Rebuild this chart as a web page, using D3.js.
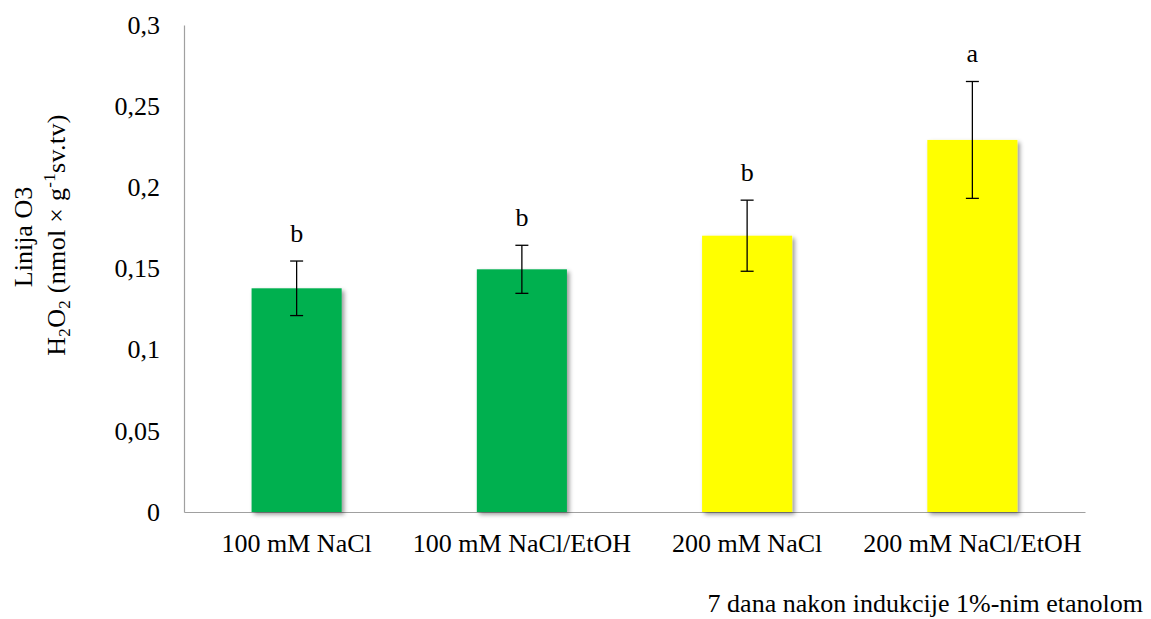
<!DOCTYPE html>
<html>
<head>
<meta charset="utf-8">
<script src="https://cdn.jsdelivr.net/npm/d3@7"></script>
<style>
  html, body { margin: 0; padding: 0; background: #fff; }
  svg text { font-family: "Liberation Serif", "Times New Roman", "DejaVu Serif", serif !important; }
</style>
</head>
<body>
<svg id="chart" width="1151" height="619"></svg>
<script>
const categories = ["100 mM NaCl", "100 mM NaCl/EtOH", "200 mM NaCl", "200 mM NaCl/EtOH"];
const values = [0.1378, 0.1495, 0.1702, 0.2292];
const errors = [0.0168, 0.0148, 0.0219, 0.0360];
const letters = ["b", "b", "b", "a"];
const barColors = ["#00B050", "#00B050", "#FFFF00", "#FFFF00"];
const yTicks = [0, 0.05, 0.1, 0.15, 0.2, 0.25, 0.3];
const yTickLabels = ["0", "0,05", "0,1", "0,15", "0,2", "0,25", "0,3"];
const xTitle = "7 dana nakon indukcije 1%-nim etanolom";

const svg = d3.select("#chart");
const m = { left: 184, right: 1085, top: 25, bottom: 512 };
const FS = 26;

const x = d3.scaleBand().domain(categories).range([m.left, m.right])
  .paddingInner(0.6).paddingOuter(0.3);
const y = d3.scaleLinear().domain([0, 0.3]).range([m.bottom, m.top]);

const defs = svg.append("defs");
const f = defs.append("filter").attr("id", "shadow")
  .attr("x", "-20%").attr("y", "-20%").attr("width", "150%").attr("height", "150%");
f.append("feDropShadow").attr("dx", 2.5).attr("dy", 2.5).attr("stdDeviation", 2)
  .attr("flood-color", "#000").attr("flood-opacity", 0.4);

// axes
const yAxis = svg.append("g").attr("transform", `translate(${m.left},0)`)
  .call(d3.axisLeft(y).tickValues(yTicks).tickSize(0).tickPadding(24)
    .tickFormat((d, i) => yTickLabels[i]));
yAxis.select(".domain").attr("stroke", "#a0a0a0").attr("stroke-width", 1.2);
yAxis.selectAll("text").attr("font-size", FS).attr("fill", "#000");

const xAxis = svg.append("g").attr("transform", `translate(0,${m.bottom})`)
  .call(d3.axisBottom(x).tickSize(0).tickPadding(21.5));
xAxis.select(".domain").attr("stroke", "#a0a0a0").attr("stroke-width", 1.2);
xAxis.selectAll("text").attr("font-size", FS).attr("fill", "#000");

// bars
svg.append("g").selectAll("rect").data(categories).join("rect")
  .attr("x", d => x(d))
  .attr("y", (d, i) => y(values[i]))
  .attr("width", x.bandwidth())
  .attr("height", (d, i) => y(0) - y(values[i]))
  .attr("fill", (d, i) => barColors[i])
  .attr("filter", "url(#shadow)");

// error bars
const eg = svg.append("g").attr("stroke", "#000").attr("stroke-width", 1.3);
categories.forEach((c, i) => {
  const cx = x(c) + x.bandwidth() / 2;
  const hi = y(values[i] + errors[i]), lo = y(values[i] - errors[i]);
  eg.append("line").attr("x1", cx).attr("x2", cx).attr("y1", hi).attr("y2", lo);
  eg.append("line").attr("x1", cx - 6.5).attr("x2", cx + 6.5).attr("y1", hi).attr("y2", hi);
  eg.append("line").attr("x1", cx - 6.5).attr("x2", cx + 6.5).attr("y1", lo).attr("y2", lo);
  svg.append("text").attr("x", cx).attr("y", hi - 19)
    .attr("text-anchor", "middle").attr("font-size", FS).text(letters[i]);
});

// y title
const yt = svg.append("text").attr("transform", "translate(0,237) rotate(-90)")
  .attr("text-anchor", "middle").attr("font-size", FS);
yt.append("tspan").attr("x", 0).attr("y", 32).text("Linija O3");
const l2 = svg.append("text").attr("transform", "translate(0,235) rotate(-90)")
  .attr("text-anchor", "middle").attr("font-size", FS).style("letter-spacing", "0.3px");
l2.append("tspan").attr("x", 0).attr("y", 65).text("H");
l2.append("tspan").attr("font-size", 17).attr("dy", 5).text("2");
l2.append("tspan").attr("dy", -5).text("O");
l2.append("tspan").attr("font-size", 17).attr("dy", 5).text("2");
l2.append("tspan").attr("dy", -5).text(" (nmol × g");
l2.append("tspan").attr("font-size", 17).attr("dy", -10).text("-1");
l2.append("tspan").attr("dy", 10).text("sv.tv)");

// x title
svg.append("text").attr("x", 1143).attr("y", 612).attr("text-anchor", "end")
  .attr("font-size", FS).text(xTitle);
</script>
</body>
</html>
